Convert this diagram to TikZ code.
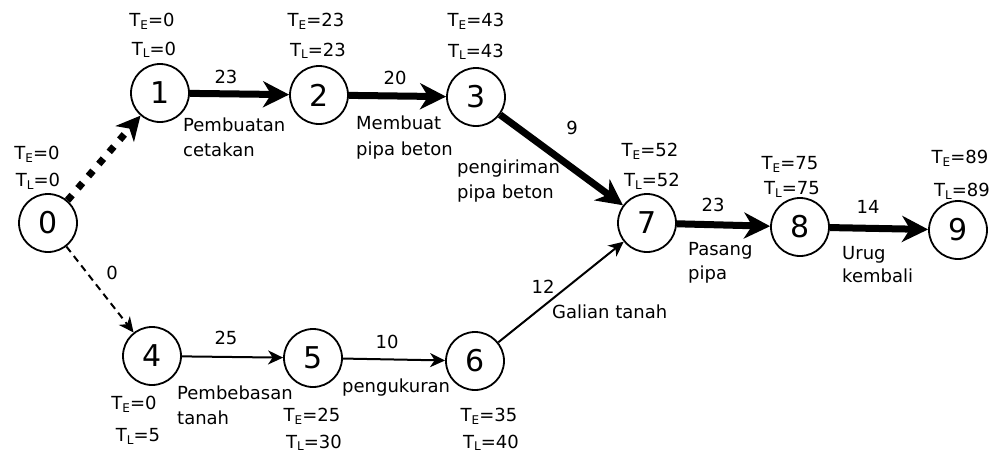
\documentclass[tikz,border=0pt]{standalone}
\usepackage{fontspec}
\setmainfont{DejaVu Sans}
\usetikzlibrary{arrows.meta}
% T with a small lowered index, e.g. \Tsub{E}{23}
\newcommand\Tsub[2]{T\raisebox{-2.5pt}{\fontsize{12}{12}\selectfont #1}=#2}
\begin{document}
\begin{tikzpicture}[x=1pt,y=-1pt,
  event/.style={circle,draw,line width=1.8pt,minimum size=58pt,inner sep=0pt,
    font=\fontsize{30}{30}\selectfont},
  lbl/.style={inner sep=0pt,font=\fontsize{18}{25}\selectfont},
  tlbl/.style={lbl,anchor=base},
  wlbl/.style={lbl,anchor=base west},
  crit/.style={line width=7pt,-{Stealth[length=26pt,width=26pt,inset=8pt]}},
  act/.style={line width=2pt,-{Stealth[length=15pt,width=14pt,inset=4.5pt]}},
  critdummy/.style={line width=7pt,dash pattern=on 7pt off 9pt,
    -{Stealth[length=24pt,width=24pt,inset=7pt]}},
  dummy/.style={line width=2pt,dash pattern=on 7pt off 5pt,
    -{Stealth[length=15pt,width=14pt,inset=4.5pt]}}]
\useasboundingbox (0,0) rectangle (999,455);

% events
\node[event] (n0) at (48,223) {0};
\node[event] (n1) at (160,93) {1};
\node[event] (n2) at (319,95) {2};
\node[event] (n3) at (476,97) {3};
\node[event] (n4) at (152,356) {4};
\node[event] (n5) at (313,358) {5};
\node[event] (n6) at (475,361) {6};
\node[event] (n7) at (647,223) {7};
\node[event] (n8) at (800,227) {8};
\node[event] (n9) at (958,230) {9};

% activities
\draw[critdummy] (n0) -- (n1);
\draw[dummy] (n0) -- (n4);
\draw[crit] (n1) -- (n2);
\draw[crit] (n2) -- (n3);
\draw[crit] (n3) -- (n7);
\draw[act] (n4) -- (n5);
\draw[act] (n5) -- (n6);
\draw[act] (n6) -- (n7);
\draw[crit] (n7) -- (n8);
\draw[crit] (n8) -- (n9);

% earliest / latest event times
\node[tlbl] (te0) at (37,159.5) {\Tsub{E}{0}};
\node[tlbl] (tl0) at (38,186.5) {\Tsub{L}{0}};
\node[tlbl] (te1) at (152,27) {\Tsub{E}{0}};
\node[tlbl] (tl1) at (154,55) {\Tsub{L}{0}};
\node[tlbl] (te2) at (316,27) {\Tsub{E}{23}};
\node[tlbl] (tl2) at (318,56) {\Tsub{L}{23}};
\node[tlbl] (te3) at (476,27) {\Tsub{E}{43}};
\node[tlbl] (tl3) at (476,57) {\Tsub{L}{43}};
\node[tlbl] (te7) at (650,156.5) {\Tsub{E}{52}};
\node[tlbl] (tl7) at (652,186.5) {\Tsub{L}{52}};
\node[tlbl] (te8) at (790,169.5) {\Tsub{E}{75}};
\node[tlbl] (tl8) at (792,194.5) {\Tsub{L}{75}};
\node[tlbl] (te9) at (960,163.5) {\Tsub{E}{89}};
\node[tlbl] (tl9) at (962,196.5) {\Tsub{L}{89}};
\node[tlbl] (te4) at (134,409.5) {\Tsub{E}{0}};
\node[tlbl] (tl4) at (138,441.5) {\Tsub{L}{5}};
\node[tlbl] (te5) at (312,421.5) {\Tsub{E}{25}};
\node[tlbl] (tl5) at (314,448) {\Tsub{L}{30}};
\node[tlbl] (te6) at (489,421.5) {\Tsub{E}{35}};
\node[tlbl] (tl6) at (491,448) {\Tsub{L}{40}};

% durations
\node[tlbl] (d04) at (112,279.5) {0};
\node[tlbl] (d12) at (226,83.5) {23};
\node[tlbl] (d23) at (395,84.5) {20};
\node[tlbl] (d37) at (572,134.5) {9};
\node[tlbl] (d45) at (226,344.5) {25};
\node[tlbl] (d56) at (387,348.5) {10};
\node[tlbl] (d67) at (543,293.5) {12};
\node[tlbl] (d78) at (713,211.5) {23};
\node[tlbl] (d89) at (868,213.5) {14};

% activity names
\node[wlbl] (a12a) at (183,131.5) {Pembuatan};
\node[wlbl] (a12b) at (183,156.5) {cetakan};
\node[wlbl] (a23a) at (356,129.5) {Membuat};
\node[wlbl] (a23b) at (356,155) {pipa beton};
\node[wlbl] (a37a) at (457,173) {pengiriman};
\node[wlbl] (a37b) at (457,198) {pipa beton};
\node[wlbl] (a45a) at (177,399.5) {Pembebasan};
\node[wlbl] (a45b) at (177,424.5) {tanah};
\node[wlbl] (a56) at (342,392) {pengukuran};
\node[wlbl] (a67) at (552,318) {Galian tanah};
\node[wlbl] (a78a) at (688,255) {Pasang};
\node[wlbl] (a78b) at (688,279) {pipa};
\node[wlbl] (a89a) at (842,259) {Urug};
\node[wlbl] (a89b) at (842,282) {kembali};
\end{tikzpicture}
\end{document}
